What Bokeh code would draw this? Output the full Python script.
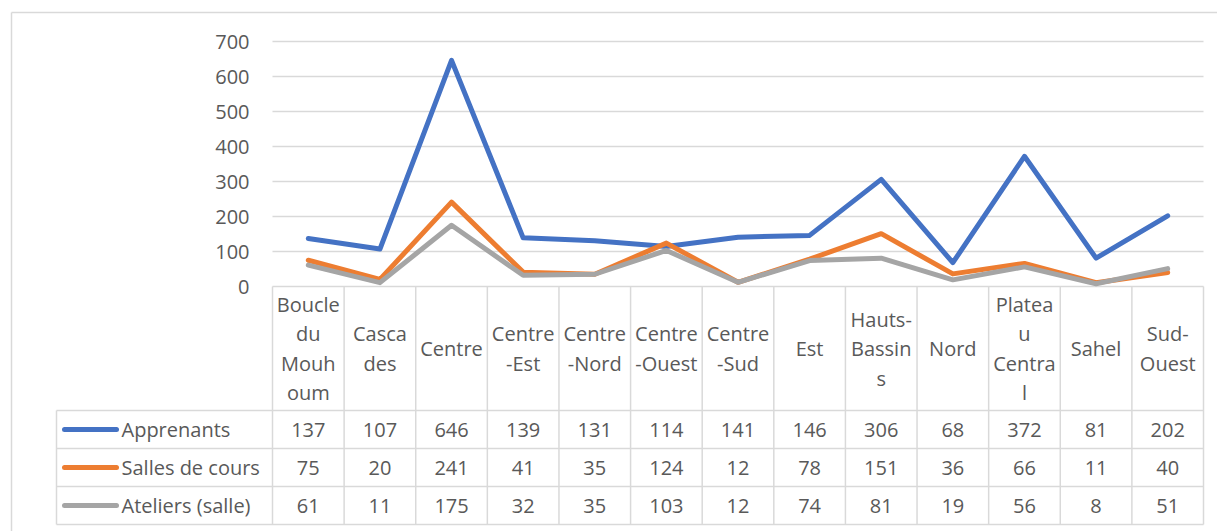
from bokeh.plotting import figure
from bokeh.models import Range1d
from bokeh.core.properties import value
from bokeh.embed import file_html
from bokeh.resources import INLINE

# ---- data ----
categories = ["Boucle\ndu\nMouh\noum", "Casca\ndes", "Centre", "Centre\n-Est", "Centre\n-Nord",
              "Centre\n-Ouest", "Centre\n-Sud", "Est", "Hauts-\nBassin\ns", "Nord",
              "Platea\nu\nCentra\nl", "Sahel", "Sud-\nOuest"]
series_names = ["Apprenants", "Salles de cours", "Ateliers (salle)"]
apprenants = [137, 107, 646, 139, 131, 114, 141, 146, 306, 68, 372, 81, 202]
salles = [75, 20, 241, 41, 35, 124, 12, 78, 151, 36, 66, 11, 40]
ateliers = [61, 11, 175, 32, 35, 103, 12, 74, 81, 19, 56, 8, 51]
y_ticks = [0, 100, 200, 300, 400, 500, 600, 700]

colors = ["#4472C4", "#ED7D31", "#A5A5A5"]
series = [apprenants, salles, ateliers]
TXT = "#595959"
GRID = "#d9d9d9"
FONT = value("Open Sans")
FS = "20px"

# ---- page-pixel geometry helpers (frame covers whole canvas) ----
W, H = 1217, 531
OX, OY = 0, 0
PA_L, PA_R = 272.0, 1203.0
N = len(categories)
CW = (PA_R - PA_L) / N
Y0, Y700 = 286.0, 41.0
PPU = (Y0 - Y700) / 700.0

def ux(px):
    return (px - PA_L) / CW

def vy(py):
    return (Y0 - py) / PPU

p = figure(width=W, height=H, output_backend="svg", toolbar_location=None,
           x_range=Range1d(ux(OX), ux(OX + W)), y_range=Range1d(vy(OY + H), vy(OY)),
           min_border=0, outline_line_color=None)
p.axis.visible = False
p.grid.visible = False
p.background_fill_color = "white"

# outer chart border (left and top visible)
p.segment(x0=[ux(11), ux(11)], y0=[vy(12), vy(12)], x1=[ux(11), ux(OX + W + 5)], y1=[vy(OY + H + 5), vy(12)],
          line_color=GRID, line_width=1.5)

# gridlines
gy = [t for t in y_ticks if t > 0]
p.segment(x0=[0] * len(gy), y0=gy, x1=[N] * len(gy), y1=gy, line_color=GRID, line_width=1.3)

# y tick labels
p.text(x=[ux(249)] * len(y_ticks), y=y_ticks, text=[str(t) for t in y_ticks],
       text_align="right", text_baseline="middle", text_color=TXT,
       text_font=FONT, text_font_size=FS)

# ---- data table ----
HDR_B = 410.0
ROW_H = 38.0
row_lines = [HDR_B + ROW_H * k for k in range(4)]
TBL_B = row_lines[-1]
LEG_L = 56.0

# horizontal lines
p.segment(x0=[0], y0=[0], x1=[N], y1=[0], line_color=GRID, line_width=1.5)
p.segment(x0=[ux(LEG_L)] * 4, y0=[vy(r) for r in row_lines], x1=[N] * 4, y1=[vy(r) for r in row_lines],
          line_color=GRID, line_width=1.5)
# vertical lines
p.segment(x0=list(range(N + 1)), y0=[0] * (N + 1), x1=list(range(N + 1)), y1=[vy(TBL_B)] * (N + 1),
          line_color=GRID, line_width=1.5)
p.segment(x0=[ux(LEG_L)], y0=[vy(HDR_B)], x1=[ux(LEG_L)], y1=[vy(TBL_B)], line_color=GRID, line_width=1.5)

# header category labels
LH = 29.5
hx, hy, ht = [], [], []
for i, c in enumerate(categories):
    lines = c.split("\n")
    n = len(lines)
    for j, ln in enumerate(lines):
        hx.append(i + 0.5)
        hy.append(vy(348 + (j - (n - 1) / 2) * LH))
        ht.append(ln)
p.text(x=hx, y=hy, text=ht, text_align="center", text_baseline="middle",
       text_color=TXT, text_font=FONT, text_font_size=FS)

# value rows + legend keys
for r, (name, vals, col) in enumerate(zip(series_names, series, colors)):
    cy = vy(HDR_B + ROW_H * (r + 0.5))
    p.text(x=[i + 0.5 for i in range(N)], y=[cy] * N, text=[str(v) for v in vals],
           text_align="center", text_baseline="middle", text_color=TXT,
           text_font=FONT, text_font_size=FS)
    p.line(x=[ux(64), ux(116)], y=[cy, cy], line_color=col, line_width=5, line_cap="round")
    p.text(x=[ux(121)], y=[cy], text=[name], text_align="left", text_baseline="middle",
           text_color=TXT, text_font=FONT, text_font_size=FS)

# ---- series lines ----
xs = [i + 0.5 for i in range(N)]
for vals, col, name in zip(series, colors, series_names):
    p.line(x=xs, y=vals, line_color=col, line_width=5, line_join="round", line_cap="round")

open("out.html", "w").write(file_html(p, INLINE))
